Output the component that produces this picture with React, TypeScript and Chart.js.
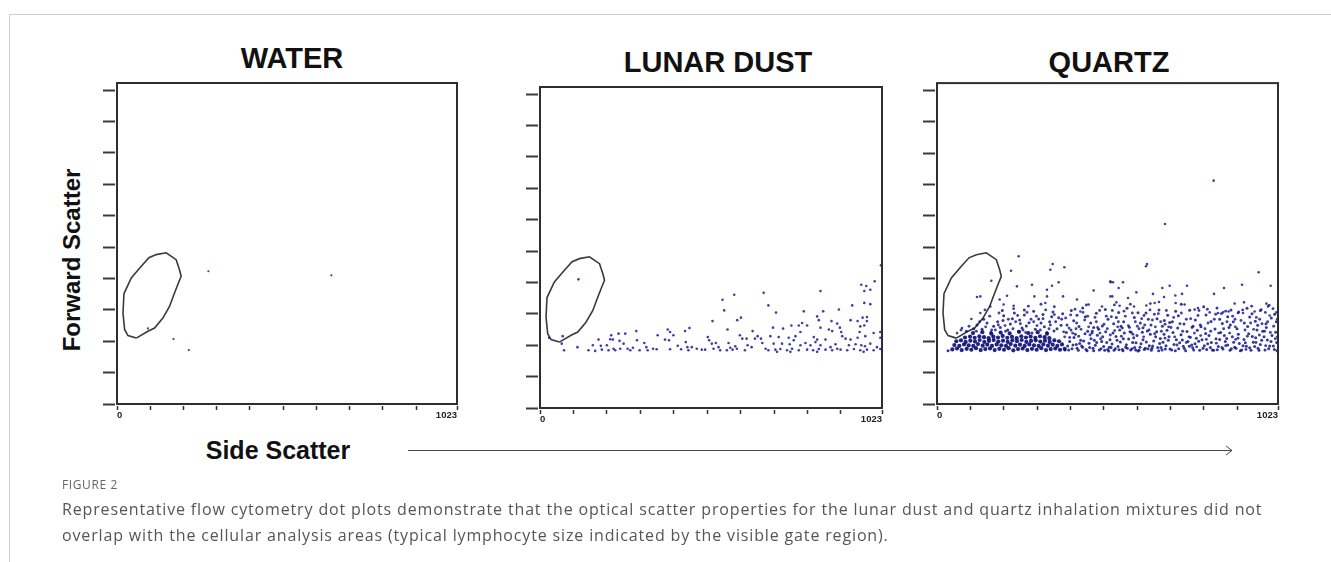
import React, { useEffect, useRef } from 'react';
import { Chart, registerables } from 'chart.js';

Chart.register(...registerables);

type P = [number, number];

// ---- axis ticks ----
const xTickValues = [0, 100, 200, 300, 400, 500, 600, 700, 800, 900, 1023];
const yTickValues = [0, 100, 200, 300, 400, 500, 600, 700, 800, 900, 1000];
const xLabelShown = [0, 1023];
const axisMin = 0;
const axisMax = 1023;

// ---- titles / labels ----
const panelTitles = ['WATER', 'LUNAR DUST', 'QUARTZ'];
const yAxisTitle = 'Forward Scatter';
const xAxisTitle = 'Side Scatter';
const figureLabel = 'FIGURE 2';
const captionLines = [
  'Representative flow cytometry dot plots demonstrate that the optical scatter properties for the lunar dust and quartz inhalation mixtures did not',
  'overlap with the cellular analysis areas (typical lymphocyte size indicated by the visible gate region).',
];

// ---- lymphocyte gate (same in every panel) ----
const gatePolygon: P[] = [
  [58, 210], [33, 218], [23, 237], [18, 290], [21, 352], [43, 402], [73, 439], [96, 466], [118, 476],
  [148, 482], [178, 460], [188, 428], [193, 407], [183, 381], [173, 354], [158, 311], [138, 274],
  [113, 242], [93, 232], [58, 210],
];

// ---- WATER events ----
const waterPoints: P[] = [[275, 423], [645, 410], [93, 241], [170, 207], [216, 172]];

// ---- LUNAR DUST events ----
const lunarPoints: P[] = [
  [115, 410], [27, 224], [68, 229], [65, 205], [72, 184], [112, 194], [145, 184], [158, 200], [165, 182],
  [175, 218], [182, 198], [185, 186], [205, 184], [210, 219], [213, 232], [218, 218], [220, 189], [235, 237],
  [238, 214], [240, 189], [250, 205], [255, 237], [262, 189], [270, 184], [278, 192], [288, 245], [290, 216],
  [298, 184], [312, 207], [318, 194], [322, 184], [338, 189], [200, 200], [225, 184],
  [581, 361], [546, 345], [669, 367], [683, 327], [551, 311], [516, 277], [590, 280], [601, 288], [561, 250],
  [352, 232], [382, 250], [389, 242], [399, 232], [434, 245], [447, 255], [374, 218], [386, 216], [349, 187],
  [389, 187], [412, 198], [422, 187], [436, 210], [441, 194], [444, 184], [454, 194], [469, 189], [484, 186],
  [502, 226], [506, 216], [514, 205], [519, 189], [526, 207], [534, 194], [539, 184], [564, 207], [569, 192],
  [576, 186], [584, 197], [589, 189], [598, 232], [605, 221], [618, 221], [621, 200], [633, 194], [636, 245],
  [643, 221], [651, 229], [661, 221], [665, 207], [675, 189], [683, 184], [613, 184], [559, 184], [494, 186],
  [1020, 455], [1001, 404], [961, 393], [976, 389], [970, 373], [988, 377], [839, 373], [970, 335], [988, 331],
  [934, 327], [706, 304], [789, 308], [847, 308], [894, 314], [829, 292], [834, 280], [872, 277], [889, 269],
  [965, 288], [978, 290], [978, 277], [929, 280], [950, 277], [697, 256], [727, 253], [752, 263], [774, 263],
  [784, 271], [799, 263], [779, 242], [839, 256], [864, 250], [874, 245], [897, 256], [901, 242], [958, 260],
  [970, 263], [956, 242], [998, 239], [1018, 242], [689, 229], [714, 226], [744, 224], [764, 229], [819, 226],
  [829, 218], [854, 218], [904, 229], [914, 221], [929, 218], [950, 224], [973, 229], [1018, 224], [699, 205],
  [724, 205], [747, 203], [759, 216], [779, 200], [794, 207], [809, 200], [824, 210], [839, 200], [869, 194],
  [884, 203], [889, 189], [924, 200], [944, 203], [961, 200], [972, 197], [988, 205], [1008, 194], [704, 186],
  [719, 188], [739, 184], [754, 189], [774, 184], [799, 186], [817, 184], [834, 188], [854, 186], [874, 184],
  [899, 186], [919, 184], [939, 188], [958, 184], [978, 186], [998, 184], [1018, 188], [709, 179], [749, 179],
  [829, 179], [968, 179],
];

// ---- QUARTZ events ----
const quartzCore: P[] = [
  [46, 174], [60, 177], [74, 172], [89, 176], [103, 173], [117, 178], [131, 172], [145, 175], [159, 177],
  [173, 172], [187, 176], [201, 173], [215, 178], [229, 171], [243, 175], [257, 177], [271, 172], [285, 176],
  [299, 173], [313, 178], [327, 172], [341, 175], [355, 177], [369, 173], [383, 176],
  [52, 188], [67, 185], [81, 190], [95, 187], [109, 185], [123, 191], [137, 186], [151, 189], [165, 185],
  [179, 190], [193, 187], [207, 185], [221, 191], [235, 186], [249, 189], [263, 185], [277, 190], [291, 187],
  [305, 185], [319, 190], [333, 186], [347, 189], [361, 185], [375, 190],
  [58, 200], [72, 203], [86, 198], [100, 202], [114, 199], [128, 204], [142, 198], [156, 201], [170, 204],
  [184, 199], [198, 202], [212, 198], [226, 203], [240, 200], [254, 204], [268, 198], [282, 201], [296, 203],
  [310, 199], [324, 202], [338, 198], [352, 203], [366, 200],
  [84, 212], [99, 215], [113, 211], [127, 216], [141, 213], [155, 210], [169, 215], [183, 212], [197, 217],
  [211, 211], [225, 214], [239, 210], [253, 216], [267, 212], [281, 215], [295, 211], [309, 216], [323, 213],
  [337, 210],
  [108, 226], [136, 229], [163, 224], [191, 228], [218, 225], [246, 230], [274, 226], [302, 229], [330, 224],
];

const quartzBand: P[] = [
  [88, 232], [135, 238], [162, 229], [190, 244], [212, 236], [245, 231], [268, 249], [295, 238], [322, 246],
  [351, 233], [372, 251], [150, 258], [182, 262], [220, 255], [248, 268], [276, 259], [305, 271], [338, 262],
  [365, 275], [200, 281], [232, 290], [262, 284], [290, 296], [318, 285], [348, 293], [377, 288], [140, 270],
  [120, 252], [110, 240], [170, 248], [198, 266], [255, 242], [285, 226], [330, 228], [360, 240], [226, 272],
  [312, 258], [344, 278], [262, 300], [196, 298], [33, 170],
  [384, 172], [392, 185], [398, 199], [405, 176], [411, 212], [418, 190], [424, 171], [431, 203], [437, 181],
  [444, 224], [450, 170], [456, 194], [462, 208], [468, 178], [475, 187], [481, 219], [487, 172], [494, 199],
  [500, 183], [506, 230], [512, 174], [519, 205], [525, 191], [531, 171], [537, 215], [543, 183], [550, 198],
  [556, 174], [562, 226], [568, 189], [575, 207], [581, 172], [587, 196], [593, 180], [600, 218], [606, 171],
  [612, 192], [618, 205], [625, 178], [631, 233], [637, 186], [643, 171], [650, 201], [656, 214], [662, 180],
  [668, 193], [675, 172], [681, 222], [687, 186], [694, 203], [699, 175],
  [388, 228], [402, 236], [415, 222], [428, 193], [440, 201], [452, 232], [465, 226], [472, 203], [485, 238],
  [497, 214], [509, 196], [517, 181], [528, 226], [540, 203], [548, 236], [559, 208], [571, 178], [579, 230],
  [590, 211], [597, 195], [609, 181], [616, 229], [628, 198], [640, 222], [647, 185], [659, 230], [670, 209],
  [678, 197], [690, 235], [696, 214],
  [395, 172], [420, 178], [447, 174], [470, 170], [492, 176], [515, 169], [535, 176], [558, 170], [585, 176],
  [603, 169], [622, 174], [645, 178], [665, 170], [685, 175], [408, 188], [434, 185], [458, 180], [479, 196],
  [503, 171], [522, 180], [546, 173], [566, 181], [596, 172], [633, 176], [672, 180],
  [390, 252], [410, 265], [426, 247], [445, 278], [461, 258], [478, 289], [496, 249], [513, 270], [530, 256],
  [545, 292], [560, 262], [577, 245], [592, 276], [610, 258], [627, 290], [642, 252], [660, 272], [676, 248],
  [692, 283], [403, 298], [437, 306], [470, 244], [505, 301], [538, 276], [570, 305], [603, 291], [634, 270],
  [666, 300], [698, 260], [420, 283], [552, 248], [618, 243], [682, 266],
  [704, 172], [711, 190], [718, 205], [725, 176], [732, 221], [739, 184], [746, 170], [753, 199], [760, 213],
  [767, 179], [774, 192], [781, 235], [788, 171], [795, 205], [802, 186], [809, 174], [816, 218], [823, 196],
  [830, 171], [837, 208], [844, 183], [851, 228], [858, 175], [865, 199], [872, 188], [879, 171], [886, 214],
  [893, 181], [900, 240], [907, 193], [914, 172], [921, 206], [928, 184], [935, 224], [942, 171], [949, 197],
  [956, 211], [963, 178], [970, 190], [977, 232], [984, 172], [991, 204], [998, 185], [1005, 218], [1012, 174],
  [1019, 196],
  [708, 228], [722, 242], [736, 204], [750, 231], [764, 188], [778, 210], [792, 246], [806, 225], [820, 180],
  [834, 239], [848, 206], [862, 218], [876, 244], [890, 197], [904, 222], [918, 186], [932, 247], [946, 215],
  [960, 236], [974, 203], [988, 244], [1002, 199], [1016, 229],
  [715, 170], [742, 177], [770, 172], [798, 178], [826, 172], [855, 180], [883, 176], [910, 170], [938, 179],
  [966, 171], [995, 176], [1020, 170], [728, 195], [757, 184], [785, 200], [812, 192], [841, 173], [869, 209],
  [897, 178], [925, 195], [953, 183], [981, 214], [1009, 185],
  [706, 262], [724, 281], [741, 255], [758, 299], [775, 268], [790, 252], [807, 284], [822, 263], [840, 306],
  [856, 257], [872, 278], [889, 262], [905, 293], [922, 258], [938, 277], [955, 264], [970, 298], [987, 256],
  [1003, 274], [1018, 262], [733, 318], [768, 248], [800, 310], [848, 270], [882, 300], [930, 305], [962, 251],
  [996, 315], [1013, 286], [716, 296], [880, 252], [945, 288],
];

const quartzBandUpper: P[] = [
  [72, 236], [96, 248], [128, 262], [146, 246], [175, 236], [204, 250], [236, 262], [258, 236], [282, 270],
  [300, 250], [336, 240], [356, 262], [380, 230], [158, 280], [186, 290], [214, 270], [242, 282], [270, 292],
  [298, 280], [326, 300], [352, 285], [374, 270], [118, 232], [228, 240], [310, 236], [206, 232], [266, 228],
  [340, 252], [164, 236], [250, 256], [290, 262], [318, 272], [184, 252], [230, 304], [274, 312], [352, 310],
  [144, 300], [312, 318],
  [383, 214], [396, 242], [407, 226], [419, 258], [432, 238], [443, 268], [455, 246], [466, 232], [478, 262],
  [489, 226], [501, 254], [511, 240], [523, 278], [533, 234], [544, 262], [556, 242], [565, 280], [574, 250],
  [583, 228], [595, 262], [606, 240], [614, 272], [623, 252], [636, 236], [646, 268], [655, 246], [664, 288],
  [673, 232], [684, 254], [695, 246], [386, 274], [401, 284], [417, 240], [438, 292], [452, 280], [474, 276],
  [488, 298], [508, 280], [526, 298], [542, 246], [561, 296], [586, 290], [601, 248], [621, 282], [639, 300],
  [652, 286], [671, 262], [688, 298], [398, 212], [425, 216], [459, 220], [491, 208], [520, 220], [553, 216],
  [588, 222], [620, 214], [653, 224], [684, 210], [414, 302], [448, 316], [482, 244], [532, 316], [580, 318],
  [640, 320],
  [702, 244], [713, 214], [729, 256], [737, 232], [748, 270], [756, 214], [765, 244], [772, 226], [783, 282],
  [791, 218], [804, 240], [813, 258], [821, 232], [832, 270], [845, 226], [853, 288], [860, 240], [870, 262],
  [878, 226], [887, 280], [895, 246], [903, 210], [912, 266], [924, 236], [931, 216], [941, 258], [950, 238],
  [958, 276], [967, 220], [975, 256], [983, 232], [992, 262], [1000, 228], [1010, 248], [1021, 214], [710, 276],
  [733, 290], [761, 272], [786, 298], [811, 302], [836, 286], [866, 296], [894, 270], [917, 300], [944, 312],
  [968, 270], [985, 292], [1008, 304], [1021, 270], [720, 188], [748, 196], [779, 182], [808, 206], [838, 194],
  [866, 186], [896, 206], [927, 174], [957, 196], [986, 186], [1015, 208],
];

const quartzSparse: P[] = [
  [245, 471], [347, 446], [340, 428], [382, 436], [222, 425], [163, 393], [120, 341], [130, 343], [240, 375],
  [285, 380], [345, 377], [330, 364], [470, 362], [365, 388], [292, 343], [210, 345], [188, 333], [200, 317],
  [230, 313], [330, 343], [325, 322], [378, 343], [420, 333], [455, 317], [430, 295], [495, 311], [160, 311],
  [103, 271], [130, 290], [75, 242], [60, 226], [520, 391], [520, 343],
  [830, 712], [684, 574], [630, 446], [627, 439], [965, 420], [521, 388], [528, 388], [558, 388], [545, 370],
  [676, 370], [698, 377], [750, 377], [861, 370], [915, 380], [1001, 377], [831, 351], [598, 356], [648, 351],
  [526, 343], [573, 338], [681, 341], [715, 346], [735, 351], [993, 311], [988, 320], [921, 324], [893, 320],
  [538, 324], [548, 313], [591, 311], [628, 314], [653, 322], [666, 325], [716, 322], [743, 317], [773, 301],
  [783, 306], [818, 292], [843, 290], [858, 292], [875, 295], [903, 290], [918, 290], [953, 295], [973, 301],
  [998, 282], [1018, 292],
];

type Layer = { points: P[]; radius: number; color: string };

const toXY = (ps: P[]) => ps.map(([x, y]) => ({ x, y }));

const framePlugin = {
  id: 'plotFrame',
  afterDatasetsDraw(chart: any) {
    const { ctx, chartArea } = chart;
    const { left, top, right, bottom } = chartArea;
    ctx.save();
    ctx.strokeStyle = '#2e2e2e';
    ctx.lineWidth = 2;
    ctx.strokeRect(left, top, right - left, bottom - top);
    ctx.restore();
  },
};

function DotPlot(props: { left: number; top: number; width: number; height: number; layers: Layer[] }) {
  const { left, top, width, height, layers } = props;
  const ref = useRef<HTMLCanvasElement | null>(null);

  useEffect(() => {
    if (!ref.current) return;
    const datasets: any[] = layers.map((l) => ({
      data: toXY(l.points),
      pointRadius: l.radius,
      pointHoverRadius: l.radius,
      backgroundColor: l.color,
      borderWidth: 0,
      pointBorderWidth: 0,
    }));
    datasets.push({
      data: toXY(gatePolygon),
      showLine: true,
      borderColor: '#3a3a3a',
      borderWidth: 1.6,
      pointRadius: 0,
      pointHoverRadius: 0,
      tension: 0,
      fill: false,
    });
    const chart = new Chart(ref.current, {
      type: 'scatter',
      data: { datasets },
      options: {
        animation: false,
        responsive: false,
        maintainAspectRatio: false,
        events: [],
        layout: { padding: { left: 2, right: 6, top: 2, bottom: 0 } },
        plugins: { legend: { display: false }, tooltip: { enabled: false }, title: { display: false } },
        scales: {
          x: {
            type: 'linear',
            min: axisMin,
            max: axisMax,
            afterBuildTicks: (ax: any) => {
              ax.ticks = xTickValues.map((v) => ({ value: v }));
            },
            afterFit: (ax: any) => {
              ax.height = 18;
            },
            border: { display: false },
            grid: {
              drawOnChartArea: false,
              drawTicks: true,
              tickLength: 6,
              tickColor: '#333',
              tickWidth: 1.5,
              tickBorderDash: [0, 2, 4, 20],
            },
            ticks: {
              align: 'inner',
              padding: 0,
              autoSkip: false,
              maxRotation: 0,
              color: '#222',
              font: { family: 'Liberation Sans, Arial', size: 9.5, weight: 'bold' },
              callback: (v: any) => (xLabelShown.includes(Number(v)) ? String(v) : ''),
            },
          },
          y: {
            type: 'linear',
            min: axisMin,
            max: axisMax,
            afterBuildTicks: (ax: any) => {
              ax.ticks = yTickValues.map((v) => ({ value: v }));
            },
            afterFit: (ax: any) => {
              ax.width = 14;
            },
            border: { display: false },
            grid: {
              drawOnChartArea: false,
              drawTicks: true,
              tickLength: 14,
              tickColor: '#3a3a3a',
              tickWidth: 2,
              tickBorderDash: [12, 20],
            },
            ticks: { display: false },
          },
        },
      } as any,
      plugins: [framePlugin],
    });
    return () => chart.destroy();
  }, []);

  return (
    <canvas
      ref={ref}
      width={width}
      height={height}
      style={{ position: 'absolute', left, top, width, height }}
    />
  );
}

const dotColor = 'rgba(28,28,150,0.85)';

export default function App() {
  const titleStyle = (x: number, y: number): React.CSSProperties => ({
    position: 'absolute',
    left: x,
    top: y,
    transform: 'translate(-50%, -50%)',
    fontFamily: 'Liberation Sans, Arial, sans-serif',
    fontWeight: 'bold',
    fontSize: 29,
    lineHeight: 1,
    whiteSpace: 'nowrap',
    color: '#111',
  });

  return (
    <div
      style={{
        position: 'absolute',
        left: 0,
        top: 0,
        width: 1331,
        height: 562,
        background: '#fff',
        overflow: 'hidden',
      }}
    >
      <div
        style={{
          position: 'absolute',
          left: 9,
          top: 14,
          right: -2,
          bottom: -2,
          borderLeft: '1px solid #d2d2d2',
          borderTop: '1px solid #d2d2d2',
        }}
      />

      <div style={titleStyle(292, 58)}>{panelTitles[0]}</div>
      <div style={titleStyle(718, 62)}>{panelTitles[1]}</div>
      <div style={titleStyle(1109, 62)}>{panelTitles[2]}</div>

      <DotPlot left={101} top={81} width={362} height={341} layers={[{ points: waterPoints, radius: 1.1, color: dotColor }]} />
      <DotPlot left={524} top={85} width={364} height={341} layers={[{ points: lunarPoints, radius: 1.3, color: dotColor }]} />
      <DotPlot
        left={921}
        top={81}
        width={363}
        height={341}
        layers={[
          { points: quartzCore, radius: 2.1, color: 'rgba(10,10,115,0.9)' },
          { points: quartzBand, radius: 1.5, color: 'rgba(20,20,135,0.85)' },
          { points: quartzBandUpper, radius: 1.45, color: 'rgba(24,24,140,0.82)' },
          { points: quartzSparse, radius: 1.3, color: dotColor },
        ]}
      />

      <div
        style={{
          position: 'absolute',
          left: 72,
          top: 260,
          transform: 'translate(-50%, -50%) rotate(-90deg)',
          fontFamily: 'Liberation Sans, Arial, sans-serif',
          fontWeight: 'bold',
          fontSize: 24,
          lineHeight: 1,
          whiteSpace: 'nowrap',
          color: '#111',
        }}
      >
        {yAxisTitle}
      </div>

      <div
        style={{
          position: 'absolute',
          left: 278,
          top: 450,
          transform: 'translate(-50%, -50%)',
          fontFamily: 'Liberation Sans, Arial, sans-serif',
          fontWeight: 'bold',
          fontSize: 25,
          lineHeight: 1,
          whiteSpace: 'nowrap',
          color: '#111',
        }}
      >
        {xAxisTitle}
      </div>

      <svg
        width={1331}
        height={562}
        style={{ position: 'absolute', left: 0, top: 0, pointerEvents: 'none' }}
      >
        <line x1={408} y1={450.5} x2={1232} y2={450.5} stroke="#4a4a4a" strokeWidth={1} />
        <polyline points="1226,446 1232,450.5 1226,455" fill="none" stroke="#4a4a4a" strokeWidth={1} />
      </svg>

      <div
        style={{
          position: 'absolute',
          left: 62,
          top: 477,
          fontFamily: '"Open Sans", "Noto Sans", sans-serif',
          fontSize: 12,
          lineHeight: '16px',
          letterSpacing: '0.6px',
          color: '#666',
          whiteSpace: 'nowrap',
        }}
      >
        {figureLabel}
      </div>
      <div
        style={{
          position: 'absolute',
          left: 62,
          top: 496,
          fontFamily: '"Open Sans", "Noto Sans", sans-serif',
          fontSize: 16,
          lineHeight: '26px',
          letterSpacing: '0.85px',
          color: '#555',
          whiteSpace: 'nowrap',
        }}
      >
        {captionLines[0]}
        <br />
        {captionLines[1]}
      </div>
    </div>
  );
}
